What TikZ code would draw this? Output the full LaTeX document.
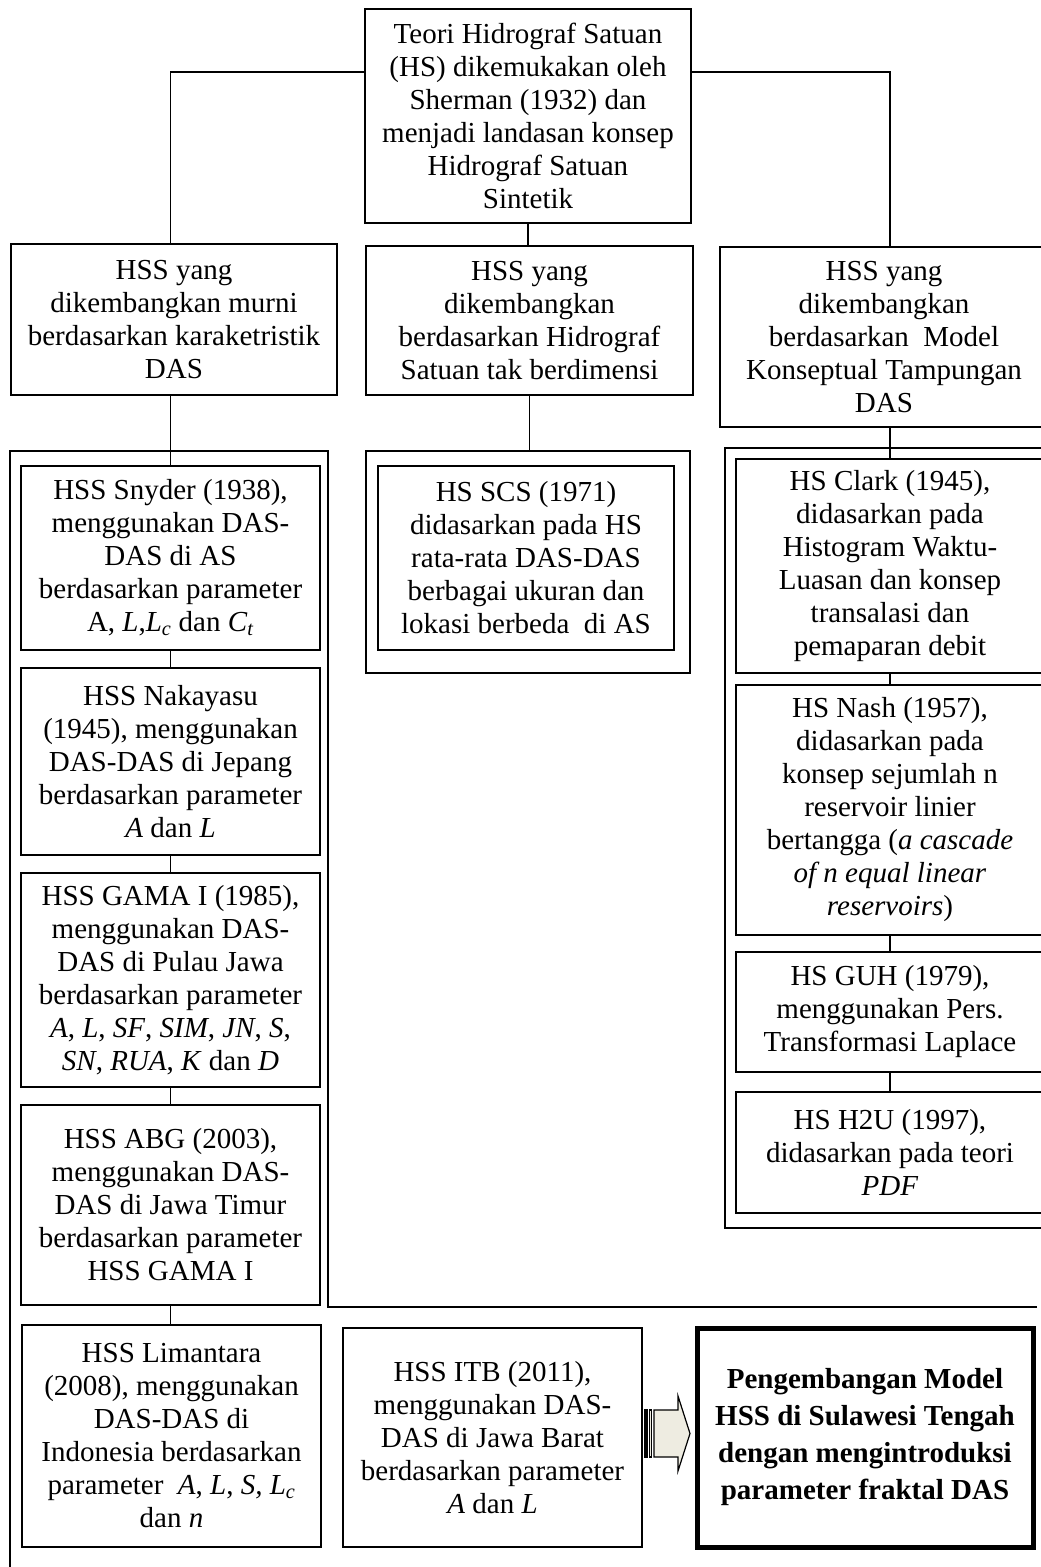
\documentclass[tikz,border=0pt]{standalone}
\usepackage{fontspec}
\setmainfont{Liberation Serif}
\definecolor{krem}{RGB}{238,236,225}

\begin{document}
\begin{tikzpicture}[x=1pt, y=-1pt,
		kotak/.style={draw, line width=2pt, align=center, inner sep=0pt, font=\fontsize{29}{33}\selectfont},
		ukuran/.style 2 args={minimum width=#1pt, minimum height=#2pt},
		bingkai/.style={draw, line width=1.6pt, inner sep=0pt},
		garis/.style={line width=1.6pt}
	]

	\useasboundingbox (0,0) rectangle (1041,1567);
	\clip (0,0) rectangle (1041,1567);

	\node[kotak, ukuran={326}{214}] (atas) at (528,116) {Teori Hidrograf Satuan\\(HS) dikemukakan oleh\\Sherman (1932) dan\\menjadi landasan konsep\\Hidrograf Satuan\\Sintetik};
	\coordinate (cabang) at (0,72);

	\node[kotak, ukuran={326}{151}] (kiri) at (174,319.5) {HSS yang\\dikembangkan murni\\berdasarkan karaketristik\\DAS};
	\node[kotak, ukuran={327}{149}] (tengah) at (529.5,320.5) {HSS yang\\dikembangkan\\berdasarkan Hidrograf\\Satuan tak berdimensi};
	\node[kotak, ukuran={328}{180}] (kanan) at (884,337) {HSS yang\\dikembangkan\\berdasarkan\ \ Model\\Konseptual Tampungan\\DAS};

	\node[bingkai, ukuran={324}{222}] (bingkaiTengah) at (528,562) {};
	\node[bingkai, ukuran={335}{780}] (bingkaiKanan) at (892.5,838) {};
	\draw[garis] (1037,1307) -- (328,1307) -- (328,451) -- (10,451) -- (10,1580);

	\node[kotak, ukuran={299}{184}] (snyder) at (170.5,558) {HSS Snyder (1938),\\menggunakan DAS-\\DAS di AS\\berdasarkan parameter\\A, \textit{L},\textit{L}\textsubscript{\textit{c}} dan \textit{C}\textsubscript{\textit{t}}};
	\node[kotak, ukuran={299}{187}] (nakayasu) at (170.5,761.5) {HSS Nakayasu\\(1945), menggunakan\\DAS-DAS di Jepang\\berdasarkan parameter\\\textit{A} dan \textit{L}};
	\node[kotak, ukuran={299}{214}] (gama) at (170.5,980) {HSS GAMA I (1985),\\menggunakan DAS-\\DAS di Pulau Jawa\\berdasarkan parameter\\\textit{A}, \textit{L}, \textit{SF}, \textit{SIM}, \textit{JN}, \textit{S},\\\textit{SN}, \textit{RUA}, \textit{K} dan \textit{D}};
	\node[kotak, ukuran={299}{200}] (abg) at (170.5,1205) {HSS ABG (2003),\\menggunakan DAS-\\DAS di Jawa Timur\\berdasarkan parameter\\HSS GAMA I};
	\node[kotak, ukuran={299}{222}] (limantara) at (171.5,1436) {HSS Limantara\\(2008), menggunakan\\DAS-DAS di\\Indonesia berdasarkan\\parameter\ \ \textit{A}, \textit{L}, \textit{S,} \textit{L}\textsubscript{\textit{c}}\\dan \textit{n}};
	\node[kotak, ukuran={299}{219}] (itb) at (492.5,1437.5) {HSS ITB (2011),\\menggunakan DAS-\\DAS di Jawa Barat\\berdasarkan parameter\\\textit{A} dan \textit{L}};
	\node[kotak, ukuran={336}{219}, line width=5pt, font=\fontsize{29}{37}\selectfont\bfseries] (hasil) at (865,1437.5) {Pengembangan Model\\HSS di Sulawesi Tengah\\dengan mengintroduksi\\parameter fraktal DAS};

	\node[kotak, ukuran={296}{184}] (scs) at (526,558) {HS SCS (1971)\\didasarkan pada HS\\rata-rata DAS-DAS\\berbagai ukuran dan\\lokasi berbeda\ \ di AS};

	\node[kotak, ukuran={308}{214}] (clark) at (890,566) {HS Clark (1945),\\didasarkan pada\\Histogram Waktu-\\Luasan dan konsep\\transalasi dan\\pemaparan debit};
	\node[kotak, ukuran={308}{250}] (nash) at (890,810) {HS Nash (1957),\\didasarkan pada\\konsep sejumlah n\\reservoir linier\\bertangga (\textit{a cascade}\\\textit{of n equal linear}\\\textit{reservoirs})};
	\node[kotak, ukuran={308}{120}] (guh) at (890,1012) {HS GUH (1979),\\menggunakan Pers.\\Transformasi Laplace};
	\node[kotak, ukuran={308}{121}] (h2u) at (890,1152.5) {HS H2U (1997),\\didasarkan pada teori\\\textit{PDF}};

	\draw[garis] (atas.west |- cabang) -| (snyder.north |- kiri.north);
	\draw[garis] (atas.east |- cabang) -| (clark.north |- kanan.north);
	\draw[garis] (atas.south) -- (atas.south |- tengah.north);
	\draw[garis] (snyder.north |- kiri.south) -- (snyder.north);
	\draw[garis] (tengah.south) -- (tengah.south |- bingkaiTengah.north);
	\draw[garis] (clark.north |- kanan.south) -- (clark.north);

	\draw[garis] (snyder.south) -- (nakayasu.north);
	\draw[garis] (nakayasu.south) -- (gama.north);
	\draw[garis] (gama.south) -- (abg.north);
	\draw[garis] (abg.south) -- (abg.south |- limantara.north);

	\draw[garis] (clark.south) -- (nash.north);
	\draw[garis] (nash.south) -- (guh.north);
	\draw[garis] (guh.south) -- (h2u.north);

	\draw[line width=1.2pt, fill=krem] (654,1410) -- (678,1410) -- (678,1396) -- (690,1433.5) -- (678,1471) -- (678,1457) -- (654,1457) -- cycle;
	\draw[line width=1.2pt, fill=krem] (645,1410) rectangle (647,1457);
	\draw[line width=1.2pt, fill=krem] (649.5,1410) rectangle (651.5,1457);

\end{tikzpicture}
\end{document}
